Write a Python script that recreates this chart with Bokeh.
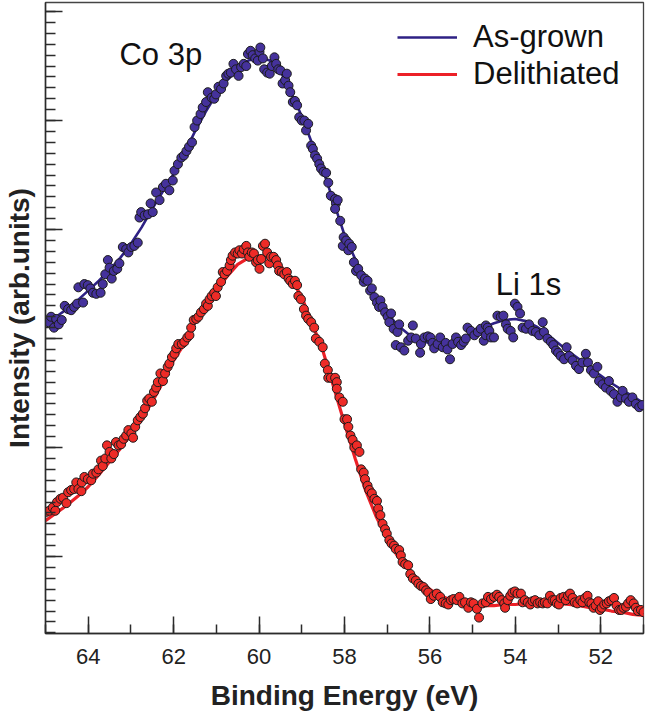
from bokeh.plotting import figure
from bokeh.models import Range1d, SingleIntervalTicker, Legend, LegendItem, Label
from bokeh.embed import file_html
from bokeh.resources import INLINE

# ---------------- data ----------------
blue_ev = [64.93, 64.87, 64.80, 64.75, 64.69, 64.62, 64.55, 64.47, 64.40, 64.33, 64.26, 64.23,
           64.12, 64.09, 64.01, 63.95, 63.89, 63.81, 63.71, 63.66, 63.60, 63.54, 63.50, 63.45,
           63.40, 63.32, 63.27, 63.19, 63.11, 63.06, 62.99, 62.92, 62.84, 62.80, 62.76, 62.68,
           62.60, 62.54, 62.49, 62.41, 62.33, 62.25, 62.18, 62.10, 62.02, 61.98, 61.90, 61.82,
           61.76, 61.70, 61.64, 61.57, 61.51, 61.45, 61.37, 61.32, 61.24, 61.20, 61.11, 61.05,
           61.01, 60.95, 60.89, 60.83, 60.77, 60.72, 60.66, 60.60, 60.54, 60.48, 60.42, 60.36,
           60.30, 60.26, 60.20, 60.15, 60.09, 60.03, 59.99, 59.97, 59.91, 59.88, 59.81, 59.75,
           59.70, 59.64, 59.60, 59.55, 59.50, 59.45, 59.39, 59.35, 59.31, 59.27, 59.21, 59.16,
           59.11, 59.06, 59.00, 58.94, 58.90, 58.85, 58.78, 58.74, 58.69, 58.64, 58.59, 58.55,
           58.49, 58.43, 58.38, 58.32, 58.22, 58.20, 58.16, 58.22, 58.10, 58.04, 58.02, 57.96,
           57.91, 57.89, 57.83, 57.78, 57.73, 57.68, 57.61, 57.55, 57.52, 57.46, 57.40, 57.36,
           57.30, 57.24, 57.19, 57.16, 57.11, 57.05, 56.99, 56.95, 56.91, 56.85, 56.80, 56.76,
           56.72, 56.68, 56.60, 56.51, 56.44, 56.40, 56.33, 56.23, 56.21, 56.13, 56.05, 55.99,
           55.94, 55.90, 55.82, 55.76, 55.70, 55.63, 55.59, 55.53, 55.47, 55.39, 55.34, 55.27,
           55.21, 55.16, 55.12, 55.04, 54.96, 54.88, 54.81, 54.74, 54.69, 54.69, 54.65, 54.61,
           54.57, 54.50, 54.42, 54.34, 54.28, 54.22, 54.18, 54.11, 54.05, 54.01, 53.95, 53.89,
           53.83, 53.75, 53.68, 53.60, 53.52, 53.44, 53.36, 53.33, 53.25, 53.17, 53.11, 53.05,
           53.00, 52.94, 52.86, 52.80, 52.74, 52.66, 52.58, 52.51, 52.43, 52.35, 52.30, 52.23,
           52.16, 52.08, 52.04, 51.96, 51.88, 51.81, 51.77, 51.69, 51.61, 51.53, 51.49, 51.41,
           51.34, 51.26, 51.18, 51.10, 51.03]
blue_int = [3.15, 3.20, 3.10, 3.18, 3.13, 3.17, 3.30, 3.27, 3.26, 3.29, 3.32, 3.47,
            3.33, 3.50, 3.49, 3.46, 3.42, 3.41, 3.42, 3.50, 3.59, 3.72, 3.65, 3.55,
            3.62, 3.64, 3.69, 3.84, 3.82, 3.79, 3.84, 3.85, 3.88, 4.11, 4.16, 4.13,
            4.14, 4.24, 4.16, 4.34, 4.27, 4.39, 4.42, 4.36, 4.45, 4.54, 4.60, 4.66,
            4.68, 4.72, 4.76, 4.80, 4.94, 5.00, 5.06, 5.12, 5.17, 5.26, 5.21, 5.20,
            5.24, 5.31, 5.29, 5.34, 5.41, 5.43, 5.44, 5.52, 5.47, 5.41, 5.49, 5.52,
            5.50, 5.61, 5.64, 5.60, 5.57, 5.55, 5.63, 5.67, 5.57, 5.47, 5.44, 5.43,
            5.50, 5.58, 5.52, 5.47, 5.46, 5.34, 5.37, 5.43, 5.32, 5.26, 5.17, 5.18,
            5.14, 5.03, 5.00, 5.00, 4.91, 4.97, 4.77, 4.74, 4.68, 4.65, 4.60, 4.56,
            4.53, 4.52, 4.43, 4.31, 4.28, 4.24, 4.27, 4.19, 4.08, 3.85, 3.93, 3.90,
            3.81, 3.87, 3.84, 3.70, 3.62, 3.64, 3.58, 3.52, 3.55, 3.53, 3.44, 3.46,
            3.38, 3.33, 3.29, 3.35, 3.29, 3.24, 3.20, 3.15, 3.23, 3.09, 2.94, 3.06,
            3.13, 2.92, 2.89, 2.98, 3.01, 3.12, 3.00, 2.87, 2.95, 3.01, 3.02, 3.01,
            2.96, 2.91, 2.95, 3.01, 2.92, 2.96, 2.90, 2.81, 2.95, 3.01, 2.97, 2.94,
            2.97, 3.00, 3.10, 3.07, 3.03, 3.06, 3.09, 2.98, 3.12, 3.03, 3.10, 3.07,
            3.01, 3.01, 3.21, 3.20, 3.21, 3.13, 3.09, 3.07, 3.01, 3.32, 3.29, 3.23,
            3.10, 3.09, 3.13, 3.07, 3.06, 3.03, 3.15, 3.06, 3.00, 2.97, 2.94, 2.89,
            2.87, 2.84, 2.81, 2.92, 2.84, 2.80, 2.75, 2.72, 2.78, 2.86, 2.78, 2.71,
            2.68, 2.74, 2.61, 2.58, 2.55, 2.61, 2.52, 2.49, 2.42, 2.46, 2.52, 2.45,
            2.42, 2.46, 2.40, 2.37, 2.39]

red_ev = [64.98, 64.91, 64.83, 64.77, 64.73, 64.65, 64.59, 64.51, 64.47, 64.40, 64.33, 64.28,
          64.23, 64.16, 64.15, 64.09, 64.01, 63.93, 63.89, 63.81, 63.76, 63.70, 63.66, 63.60,
          63.56, 63.50, 63.46, 63.40, 63.35, 63.29, 63.23, 63.17, 63.11, 63.06, 62.99, 62.95,
          62.90, 62.84, 62.78, 62.72, 62.67, 62.62, 62.57, 62.51, 62.46, 62.41, 62.37, 62.31,
          62.25, 62.20, 62.14, 62.10, 62.04, 61.98, 61.94, 61.89, 61.81, 61.75, 61.68, 61.63,
          61.59, 61.53, 61.47, 61.42, 61.36, 61.29, 61.24, 61.20, 61.16, 61.11, 61.05, 61.01,
          60.97, 60.89, 60.85, 60.81, 60.75, 60.69, 60.66, 60.62, 60.56, 60.50, 60.46, 60.40,
          60.36, 60.30, 60.26, 60.23, 60.17, 60.12, 60.07, 60.03, 59.99, 59.95, 59.91, 59.86,
          59.81, 59.76, 59.72, 59.66, 59.60, 59.56, 59.53, 59.47, 59.41, 59.35, 59.31, 59.27,
          59.21, 59.16, 59.11, 59.08, 59.02, 58.95, 58.90, 58.85, 58.78, 58.71, 58.67, 58.59,
          58.51, 58.46, 58.39, 58.38, 58.32, 58.22, 58.18, 58.12, 58.18, 58.04, 58.00, 57.94,
          57.91, 57.86, 57.81, 57.77, 57.71, 57.65, 57.61, 57.55, 57.52, 57.46, 57.42, 57.36,
          57.30, 57.24, 57.21, 57.16, 57.11, 57.05, 57.01, 56.95, 56.90, 56.84, 56.80, 56.72,
          56.68, 56.64, 56.58, 56.51, 56.46, 56.40, 56.33, 56.27, 56.21, 56.15, 56.09, 56.04,
          55.98, 55.91, 55.84, 55.76, 55.70, 55.63, 55.57, 55.51, 55.45, 55.37, 55.31, 55.24,
          55.18, 55.10, 55.04, 54.98, 54.90, 54.85, 54.77, 54.69, 54.64, 54.57, 54.50, 54.43,
          54.38, 54.32, 54.26, 54.24, 54.18, 54.12, 54.07, 54.01, 53.95, 53.87, 53.83, 53.78,
          53.71, 53.65, 53.60, 53.54, 53.48, 53.42, 53.36, 53.31, 53.25, 53.19, 53.13, 53.08,
          53.03, 52.98, 52.94, 52.87, 52.82, 52.77, 52.72, 52.66, 52.61, 52.55, 52.48, 52.43,
          52.37, 52.31, 52.27, 52.22, 52.17, 52.12, 52.06, 52.02, 51.98, 51.92, 51.86, 51.81,
          51.75, 51.69, 51.63, 51.57, 51.52, 51.47, 51.41, 51.36, 51.30, 51.23, 51.18, 51.13,
          51.06, 51.00]
red_int = [1.41, 1.42, 1.45, 1.42, 1.50, 1.53, 1.54, 1.49, 1.59, 1.61, 1.62, 1.68,
           1.62, 1.60, 1.68, 1.73, 1.71, 1.70, 1.76, 1.77, 1.80, 1.88, 1.83, 1.90,
           2.02, 1.96, 1.90, 1.94, 2.05, 2.02, 2.03, 2.08, 2.11, 2.16, 2.13, 2.09,
           2.19, 2.25, 2.28, 2.31, 2.36, 2.43, 2.45, 2.42, 2.51, 2.55, 2.60, 2.68,
           2.61, 2.68, 2.74, 2.77, 2.83, 2.86, 2.91, 2.95, 2.95, 2.97, 3.01, 3.03,
           3.10, 3.17, 3.18, 3.20, 3.24, 3.27, 3.32, 3.30, 3.36, 3.39, 3.42, 3.39,
           3.47, 3.52, 3.61, 3.59, 3.62, 3.67, 3.72, 3.76, 3.79, 3.78, 3.81, 3.78,
           3.82, 3.85, 3.79, 3.75, 3.79, 3.78, 3.70, 3.72, 3.64, 3.73, 3.85, 3.87,
           3.79, 3.69, 3.75, 3.75, 3.72, 3.67, 3.62, 3.61, 3.59, 3.61, 3.55, 3.53,
           3.50, 3.53, 3.49, 3.39, 3.36, 3.27, 3.21, 3.18, 3.15, 3.10, 3.00, 2.97,
           2.92, 2.77, 2.71, 2.64, 2.64, 2.64, 2.60, 2.46, 2.54, 2.42, 2.26, 2.26,
           2.19, 2.11, 2.07, 2.00, 2.02, 1.96, 1.80, 1.77, 1.71, 1.65, 1.61, 1.58,
           1.53, 1.51, 1.44, 1.38, 1.30, 1.25, 1.21, 1.15, 1.12, 1.10, 1.07, 1.06,
           1.01, 0.95, 0.93, 0.92, 0.84, 0.80, 0.78, 0.75, 0.73, 0.72, 0.69, 0.67,
           0.61, 0.64, 0.66, 0.63, 0.58, 0.57, 0.56, 0.60, 0.61, 0.60, 0.63, 0.57,
           0.58, 0.53, 0.58, 0.57, 0.52, 0.44, 0.57, 0.58, 0.63, 0.61, 0.63, 0.65,
           0.63, 0.60, 0.57, 0.53, 0.60, 0.64, 0.67, 0.68, 0.66, 0.66, 0.58, 0.60,
           0.58, 0.56, 0.59, 0.60, 0.57, 0.58, 0.57, 0.58, 0.57, 0.64, 0.60, 0.60,
           0.57, 0.56, 0.62, 0.63, 0.60, 0.64, 0.66, 0.62, 0.58, 0.57, 0.60, 0.58,
           0.62, 0.64, 0.58, 0.57, 0.53, 0.55, 0.59, 0.51, 0.53, 0.56, 0.57, 0.59,
           0.60, 0.62, 0.55, 0.51, 0.51, 0.53, 0.54, 0.57, 0.60, 0.57, 0.53, 0.50,
           0.51, 0.49]

fit_ev = [65.00, 64.75, 64.50, 64.25, 64.00, 63.75, 63.50, 63.25, 63.00, 62.75, 62.50, 62.25,
          62.00, 61.75, 61.50, 61.25, 61.00, 60.75, 60.50, 60.25, 60.00, 59.75, 59.50, 59.25,
          59.00, 58.75, 58.50, 58.25, 58.00, 57.75, 57.50, 57.25, 57.00, 56.75, 56.50, 56.25,
          56.00, 55.75, 55.50, 55.25, 55.00, 54.75, 54.50, 54.25, 54.00, 53.75, 53.50, 53.25,
          53.00, 52.75, 52.50, 52.25, 52.00, 51.75, 51.50, 51.25, 51.00]
blue_fit = [3.14, 3.20, 3.27, 3.35, 3.44, 3.53, 3.63, 3.74, 3.87, 4.02, 4.19, 4.35,
            4.51, 4.70, 4.90, 5.08, 5.24, 5.37, 5.47, 5.55, 5.58, 5.55, 5.45, 5.26,
            5.04, 4.78, 4.54, 4.25, 3.95, 3.73, 3.54, 3.37, 3.23, 3.12, 3.04, 2.98,
            2.96, 2.95, 2.97, 3.00, 3.05, 3.10, 3.14, 3.17, 3.18, 3.16, 3.11, 3.04,
            2.96, 2.88, 2.81, 2.73, 2.66, 2.59, 2.53, 2.47, 2.41]
red_fit = [1.33, 1.40, 1.47, 1.55, 1.64, 1.75, 1.87, 1.99, 2.12, 2.26, 2.42, 2.60,
           2.80, 2.95, 3.15, 3.30, 3.44, 3.57, 3.68, 3.74, 3.76, 3.74, 3.67, 3.55,
           3.38, 3.13, 2.88, 2.55, 2.22, 1.90, 1.60, 1.36, 1.16, 1.00, 0.88, 0.78,
           0.70, 0.64, 0.60, 0.57, 0.56, 0.55, 0.55, 0.56, 0.56, 0.57, 0.57, 0.57,
           0.57, 0.56, 0.55, 0.53, 0.52, 0.50, 0.49, 0.47, 0.46]

series_names = ["As-grown", "Delithiated"]
x_ticks_interval = 2

# ---------------- styling ----------------
FONT = "Liberation Sans"
BLUE_LINE = "#2e2184"
BLUE_FILL = "#45329c"
RED_LINE = "#ec2027"
RED_FILL = "#ee2b27"
EDGE = "#1b1b1b"
AXIS = "#2b2b2b"

p = figure(width=646, height=716,
           x_range=Range1d(65, 51), y_range=Range1d(0.294, 6.083),
           output_backend="svg", toolbar_location=None,
           min_border_left=44, min_border_right=3, min_border_top=2, min_border_bottom=83)

p.xgrid.visible = False
p.ygrid.visible = False
p.background_fill_color = "white"
p.border_fill_color = "white"
p.outline_line_color = "#444444"
p.outline_line_width = 1.3

# fit lines
bl = p.line(fit_ev, blue_fit, line_color=BLUE_LINE, line_width=2.6)
rl = p.line(fit_ev, red_fit, line_color=RED_LINE, line_width=3.2)

# data points
p.scatter(red_ev, red_int, marker="circle", size=9, fill_color=RED_FILL,
          line_color=EDGE, line_width=1.0)
p.scatter(blue_ev, blue_int, marker="circle", size=9, fill_color=BLUE_FILL,
          line_color=EDGE, line_width=1.0)

# x axis
xa = p.xaxis[0]
xa.ticker = SingleIntervalTicker(interval=x_ticks_interval, num_minor_ticks=2)
xa.axis_label = "Binding Energy (eV)"
xa.axis_label_text_font = FONT
xa.axis_label_text_font_style = "bold"
xa.axis_label_text_font_size = "28px"
xa.axis_label_text_color = "#222222"
xa.axis_label_standoff = 13
xa.major_label_text_font = FONT
xa.major_label_text_font_size = "22px"
xa.major_label_text_color = "#222222"
xa.major_label_standoff = 15
xa.major_tick_in = 17
xa.major_tick_out = 0
xa.minor_tick_in = 9
xa.minor_tick_out = 0
xa.axis_line_width = 1.5
xa.axis_line_color = AXIS
xa.major_tick_line_width = 1.5
xa.major_tick_line_color = AXIS
xa.minor_tick_line_width = 1.5
xa.minor_tick_line_color = AXIS

# y axis (ticks only, no tick labels)
ya = p.yaxis[0]
ya.ticker = SingleIntervalTicker(interval=1, num_minor_ticks=10)
ya.axis_label = "Intensity (arb.units)"
ya.axis_label_text_font = FONT
ya.axis_label_text_font_style = "bold"
ya.axis_label_text_font_size = "28px"
ya.axis_label_text_color = "#222222"
ya.axis_label_standoff = 11
ya.major_label_text_font_size = "0px"
ya.major_label_text_color = None
ya.major_label_standoff = 0
ya.major_tick_in = 17
ya.major_tick_out = 0
ya.minor_tick_in = 10
ya.minor_tick_out = 0
ya.axis_line_width = 1.5
ya.axis_line_color = AXIS
ya.major_tick_line_width = 1.5
ya.major_tick_line_color = AXIS
ya.minor_tick_line_width = 1.5
ya.minor_tick_line_color = AXIS

# peak annotations
p.add_layout(Label(x=63.27, y=5.61, text="Co 3p", text_font=FONT, text_font_size="31px",
                   text_color="#111111", text_baseline="alphabetic", text_align="left"))
p.add_layout(Label(x=54.46, y=3.50, text="Li 1s", text_font=FONT, text_font_size="31px",
                   text_color="#111111", text_baseline="alphabetic", text_align="left"))

legend = Legend(items=[LegendItem(label=series_names[0], renderers=[bl]),
                       LegendItem(label=series_names[1], renderers=[rl])],
                location=(352, 541))
legend.border_line_color = None
legend.background_fill_alpha = 0
legend.label_text_font = FONT
legend.label_text_font_size = "31px"
legend.label_text_color = "#111111"
legend.glyph_width = 60
legend.glyph_height = 20
legend.label_standoff = 16
legend.padding = 0
legend.margin = 0
legend.spacing = 1
p.add_layout(legend)

open("out.html", "w").write(file_html(p, INLINE))
